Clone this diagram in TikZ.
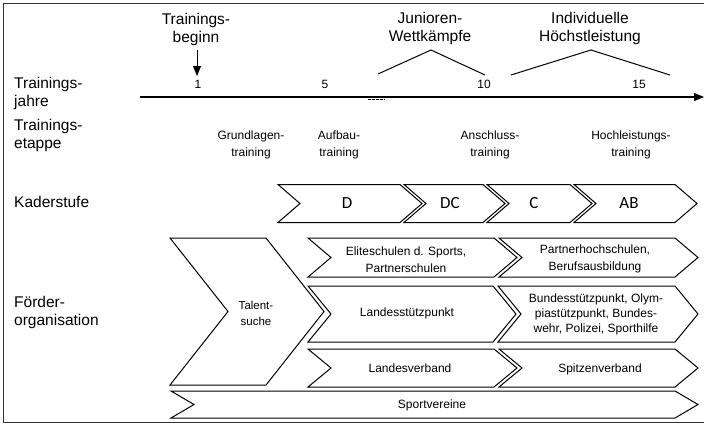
\documentclass[tikz,border=0pt]{standalone}
\usepackage{fontspec}
\setmainfont{Liberation Sans}
\newfontfamily\kaderfont{Carlito}
\usetikzlibrary{arrows.meta}

% chevron outline: left x, corner x, top y, bottom y, depth of point/notch
\newcommand{\chevpath}[5]{%
  \draw[chev] (#1,#3) -- (#2,#3) -- ({#2+#5},{(#3+#4)/2}) -- (#2,#4) -- (#1,#4)
    -- ({#1+#5},{(#3+#4)/2}) -- cycle;}

\begin{document}
\begin{tikzpicture}[x=1pt,y=-1pt,
  chev/.style={draw=black, line width=1pt, line join=miter},
  frame/.style={draw=black!80, line width=0.9pt},
  big/.style={font=\fontsize{15.5}{18}\selectfont, align=center, inner sep=0pt},
  lbl/.style={font=\fontsize{15.5}{18}\selectfont, align=left, anchor=west, inner sep=0pt},
  small/.style={font=\fontsize{12}{16.5}\selectfont, align=center, inner sep=0pt},
  tick/.style={font=\fontsize{12}{14}\selectfont, inner sep=0pt},
  kader/.style={font=\kaderfont\fontsize{17}{20}\selectfont, inner sep=0pt},
  peak/.style={draw=black, line width=1pt},
]
\useasboundingbox (0,0) rectangle (704,424);

% outer frame
\draw[frame] (704,3) -- (3,3) -- (3,422) -- (704,422);

% row labels
\node[lbl] (ljahre) at (14,93) {Trainings-\\jahre};
\node[lbl] (letappe) at (14,135.5) {Trainings-\\etappe};
\node[lbl] (lkader) at (14,202) {Kaderstufe};
\node[lbl] (lfoerder) at (14,312.5) {Förder-\\organisation};

% milestones above the time axis
\node[big] (beginn) at (196,29) {Trainings-\\beginn};
\node[big] (junioren) at (430,28) {Junioren-\\Wettkämpfe};
\node[big] (hoechst) at (590,28) {Individuelle\\Höchstleistung};

\coordinate (bstart) at (197,50);
\coordinate (bend) at (197,76);
\draw[line width=1pt, -{Triangle[length=10pt,width=8pt]}] (bstart) -- (bend);

\coordinate (jl) at (378,74);
\coordinate (jt) at (431,50);
\coordinate (jr) at (485,75);
\draw[peak] (jl) -- (jt) -- (jr);

\coordinate (hl) at (511,75);
\coordinate (ht) at (591,50);
\coordinate (hr) at (670,75);
\draw[peak] (hl) -- (ht) -- (hr);

% time axis
\coordinate (axs) at (140,97);
\coordinate (axe) at (704,97);
\draw[line width=1.1pt, -{Triangle[length=10pt,width=8pt]}] (axs) -- (axe);
\coordinate (brk1) at (368,99.5);
\coordinate (brk2) at (385,99.5);
\draw[line width=1.6pt, dash pattern=on 2.5pt off 1.5pt] (brk1) -- (brk2);

\node[tick] (t1) at (198,84) {1};
\node[tick] (t5) at (325,84) {5};
\node[tick] (t10) at (484,84) {10};
\node[tick] (t15) at (639,84) {15};

% training stages
\node[small] (grund) at (251,145) {Grundlagen-\\training};
\node[small] (aufbau) at (339,145) {Aufbau-\\training};
\node[small] (anschl) at (490,145) {Anschluss-\\training};
\node[small] (hochl) at (631,145) {Hochleistungs-\\training};

% squad levels
\chevpath{278}{400}{184.5}{222.5}{22}
\chevpath{404}{483}{184.5}{222.5}{22}
\chevpath{487}{570}{184.5}{222.5}{22}
\chevpath{574}{675}{184.5}{222.5}{22}
\node[kader] (kd) at (347,203) {D};
\node[kader] (kdc) at (450,203) {DC};
\node[kader] (kc) at (534,203) {C};
\node[kader] (kab) at (629,203) {AB};

% support organisation
\chevpath{170}{266}{238}{385}{58}
\node[small, font=\fontsize{11.5}{16.5}\selectfont] (talent) at (256,313.5) {Talent-\\suche};

\chevpath{308}{494}{238}{277}{23}
\chevpath{499}{675}{238}{277}{23}
\node[small] (elite) at (406,259.5) {Eliteschulen d. Sports,\\Partnerschulen};
\node[small] (partner) at (595,259) {Partnerhochschulen,\\Berufsausbildung};

\chevpath{308}{493}{286}{342}{23}
\chevpath{498}{675}{286}{342}{23}
\node[small] (lsp) at (407,313) {Landesstützpunkt};
\node[small, font=\fontsize{12}{15}\selectfont] (bund) at (596,314) {Bundesstützpunkt, Olym-\\piastützpunkt, Bundes-\\wehr, Polizei, Sporthilfe};

\chevpath{308}{494}{349}{387}{23}
\chevpath{499}{675}{349}{387}{23}
\node[small] (lv) at (410,368) {Landesverband};
\node[small] (spitz) at (600,369) {Spitzenverband};

\chevpath{171}{675}{391}{418}{23}
\node[small] (sportv) at (432,405) {Sportvereine};
\end{tikzpicture}
\end{document}
